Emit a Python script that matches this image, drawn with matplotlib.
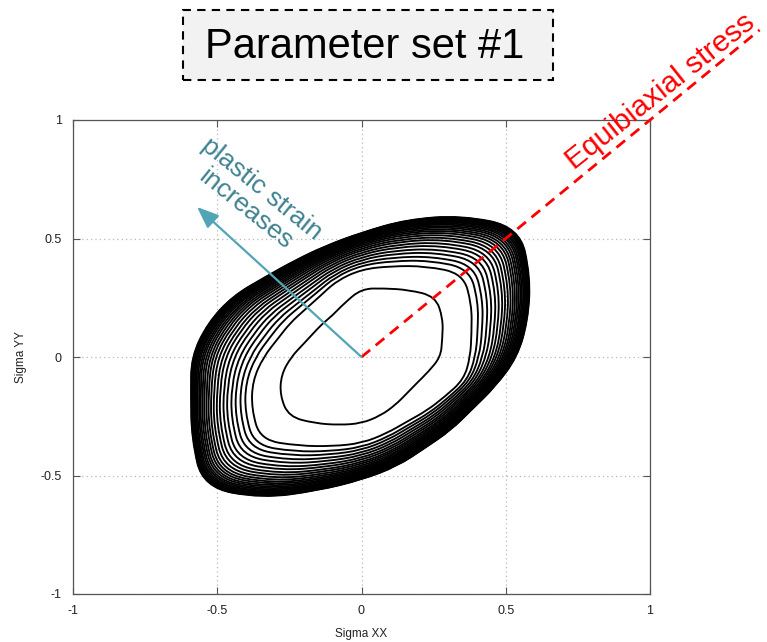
import numpy as np
import matplotlib
matplotlib.use("Agg")
import matplotlib.pyplot as plt
from matplotlib.path import Path
from matplotlib.patches import PathPatch, Rectangle

plt.rcParams['font.family'] = ['Liberation Sans', 'DejaVu Sans']

# ---- data ----
angles_deg = [0, 15, 30, 45, 60, 75, 90, 105, 120, 135, 150, 165,
              180, 195, 210, 225, 240, 255, 270, 285, 300, 315, 330, 345]
# first (innermost) yield surface radius at each angle
r_first = [0.274, 0.290, 0.326, 0.362, 0.327, 0.300, 0.288, 0.234, 0.202, 0.195, 0.195, 0.209,
           0.244, 0.288, 0.326, 0.356, 0.323, 0.297, 0.280, 0.256, 0.234, 0.220, 0.221, 0.240]
# second yield surface
r_second = [0.377, 0.395, 0.441, 0.498, 0.443, 0.397, 0.370, 0.333, 0.293, 0.280, 0.286, 0.300,
            0.340, 0.391, 0.440, 0.495, 0.433, 0.390, 0.364, 0.334, 0.315, 0.320, 0.334, 0.367]
# outermost (saturated) yield surface
r_outer = [0.540, 0.597, 0.676, 0.775, 0.690, 0.600, 0.525, 0.485, 0.468, 0.475, 0.515, 0.552,
           0.590, 0.612, 0.680, 0.778, 0.688, 0.583, 0.518, 0.477, 0.442, 0.437, 0.442, 0.480]
# position of each later surface inside the band between second and outer surface
band_fraction = [0.0, 0.11, 0.19, 0.27, 0.34, 0.41, 0.47, 0.53, 0.58, 0.63, 0.675, 0.715,
                 0.75, 0.785, 0.815, 0.845, 0.87, 0.895, 0.915, 0.935, 0.95, 0.965,
                 0.975, 0.985, 0.993, 1.0]

axis_ticks = [-1, -0.5, 0, 0.5, 1]
tick_labels = ['-1', '-0.5', '0', '0.5', '1']
equibiaxial_end = 1.38
arrow_tip = (-0.57, 0.633)

title_text = 'Parameter set #1'
x_label = 'Sigma XX'
y_label = 'Sigma YY'

# ---- figure ----
W, H = 767, 642
fig = plt.figure(figsize=(W / 100, H / 100), dpi=100)
fig.patch.set_facecolor('white')
ax = fig.add_axes([73 / W, (H - 594) / H, 577 / W, 474 / H])
ax.set_xlim(-1, 1)
ax.set_ylim(-1, 1)

th = np.deg2rad(np.array(angles_deg))


def closed_smooth(radii):
    r = np.asarray(radii)
    pts = np.column_stack([r * np.cos(th), r * np.sin(th)])
    n = len(pts)
    mids = (pts + np.roll(pts, -1, axis=0)) / 2
    verts = [mids[-1]]
    codes = [Path.MOVETO]
    for i in range(n):
        verts += [pts[i], mids[i]]
        codes += [Path.CURVE3, Path.CURVE3]
    return Path(verts, codes)


lw = 1.35
ax.add_patch(PathPatch(closed_smooth(r_first), fill=False, ec='black', lw=lw, zorder=3))
rs = np.array(r_second)
ro = np.array(r_outer)
for f in band_fraction:
    ax.add_patch(PathPatch(closed_smooth(rs + f * (ro - rs)), fill=False, ec='black',
                           lw=lw, zorder=3))

# grid and frame
ax.set_xticks(axis_ticks)
ax.set_yticks(axis_ticks)
ax.set_xticklabels(tick_labels)
ax.set_yticklabels(tick_labels)
ax.grid(True, linestyle=(0, (1, 2.5)), color='#b8b8b8', lw=0.9, zorder=0)
ax.tick_params(direction='in', length=5, width=0.8, color='#555555', top=True, right=True,
               labelsize=9, pad=8, labelcolor='#222222')
for s in ax.spines.values():
    s.set_color('#555555')
    s.set_linewidth(0.9)
ax.set_xlabel(x_label, fontsize=8.5, labelpad=8, color='#222222')
ax.set_ylabel(y_label, fontsize=8.5, labelpad=10, color='#222222')

# equibiaxial line
ax.plot([0, equibiaxial_end], [0, equibiaxial_end], color='#ff0000', lw=2.0,
        linestyle=(0, (4, 2.6)), clip_on=False, zorder=5)
ax.text(1.035, 1.12, 'Equibiaxial stress', color='#ff0000', fontsize=21.5,
        rotation=38.5, rotation_mode='anchor', ha='center', va='center', clip_on=False)

# plastic strain arrow
ax.annotate('', xy=arrow_tip, xytext=(0, 0),
            arrowprops=dict(arrowstyle='-|>,head_length=0.55,head_width=0.22',
                            color='#52a5b4', lw=1.6, mutation_scale=24,
                            shrinkA=0, shrinkB=0), zorder=6, annotation_clip=False)
ax.text(-0.375, 0.668, 'plastic strain\nincreases', color='#3f8290', fontsize=19,
        rotation=-39, rotation_mode='anchor', ha='center', va='center',
        multialignment='center', linespacing=1.1)

# title box
fig.patches.append(Rectangle((183 / W, (H - 80) / H), 370 / W, 70 / H,
                             transform=fig.transFigure, facecolor='#f2f2f2',
                             edgecolor='black', lw=1.5, linestyle=(0, (4, 3))))
fig.text(365 / W, (H - 47) / H, title_text, fontsize=30, ha='center', va='center',
         color='black')

fig.savefig('out.png', dpi=100)
